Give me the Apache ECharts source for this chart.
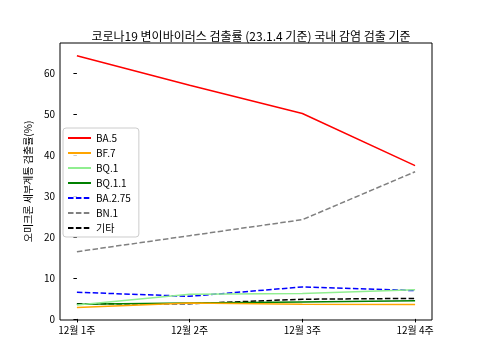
<!DOCTYPE html>
<html><head><meta charset="utf-8">
<script src="https://cdn.jsdelivr.net/npm/echarts@6/dist/echarts.min.js"></script>
<style>html,body{margin:0;padding:0;background:#fff}#c{width:480px;height:360px}</style>
</head><body><div id="c"></div>
<script>
var categories = ['12월 1주', '12월 2주', '12월 3주', '12월 4주'];
var seriesNames = ['BA.5', 'BF.7', 'BQ.1', 'BQ.1.1', 'BA.2.75', 'BN.1', '기타'];
var ba5   = [64.2, 57.0, 50.1, 37.4];
var bf7   = [2.8, 3.9, 3.6, 3.5];
var bq1   = [3.4, 6.0, 6.2, 7.1];
var bq11  = [3.6, 3.9, 4.1, 4.4];
var ba275 = [6.5, 5.5, 7.8, 6.9];
var bn1   = [16.4, 20.3, 24.2, 35.9];
var etc   = [3.7, 3.7, 4.8, 5.0];
var yTicks = [0, 10, 20, 30, 40, 50, 60];

var values = [ba5, bf7, bq1, bq11, ba275, bn1, etc];
var colors = ['#ff0000', '#ffa500', '#90ee90', '#008000', '#0000ff', '#808080', '#000000'];
var dashed = [false, false, false, false, true, true, true];
var font = "'Noto Sans CJK KR', 'DejaVu Sans', sans-serif";

var series = seriesNames.map(function (n, i) {
  return {
    name: n, type: 'line', symbol: 'none', showSymbol: false,
    data: values[i].map(function (v, j) { return [j, v]; }),
    lineStyle: { color: colors[i], width: 1.5, type: dashed[i] ? [5.5, 2.4] : 'solid' },
    itemStyle: { color: colors[i] },
    z: 10 - i
  };
});

var chart = echarts.init(document.getElementById('c'), null, { renderer: 'canvas' });
chart.setOption({
  animation: false,
  backgroundColor: '#fff',
  textStyle: { fontFamily: font },
  title: {
    text: '코로나19 변이바이러스 검출률 (23.1.4 기준) 국내 감염 검출 기준',
    left: 246, textAlign: 'center', top: 25,
    textStyle: { fontSize: 12, fontWeight: 'normal', color: '#000', fontFamily: font }
  },
  grid: { left: 60, right: 48, top: 43, bottom: 40, show: true, borderColor: '#000', borderWidth: 1, backgroundColor: 'transparent' },
  legend: {
    orient: 'vertical', left: 63, top: 128,
    data: seriesNames,
    itemWidth: 23, itemHeight: 10, itemGap: 5,
    itemStyle: { opacity: 0 },
    backgroundColor: 'rgba(255,255,255,0.8)', borderColor: '#cccccc', borderWidth: 1, borderRadius: 3,
    padding: [5, 8, 4, 4],
    textStyle: { fontSize: 10, color: '#000', fontFamily: font }
  },
  xAxis: {
    type: 'value', min: -0.15, max: 3.15,
    axisLine: { show: false },
    splitLine: { show: false },
    axisTick: { show: true, customValues: [0, 1, 2, 3], length: 3.5, lineStyle: { color: '#000' } },
    axisLabel: {
      customValues: [0, 1, 2, 3], fontSize: 10, color: '#000', margin: 5, fontFamily: font,
      formatter: function (v) { return categories[Math.round(v)]; }
    }
  },
  yAxis: {
    type: 'value', min: -0.27, max: 67.3,
    name: '오미크론 세부계통 검출률(%)', nameLocation: 'middle', nameGap: 26, nameRotate: 90,
    nameTextStyle: { fontSize: 10, color: '#000', fontFamily: font },
    axisLine: { show: false },
    splitLine: { show: false },
    axisTick: { show: true, customValues: yTicks, length: 3.5, lineStyle: { color: '#000' } },
    axisLabel: { customValues: yTicks, fontSize: 10, color: '#000', margin: 5, fontFamily: font }
  },
  series: series
});
</script></body></html>
